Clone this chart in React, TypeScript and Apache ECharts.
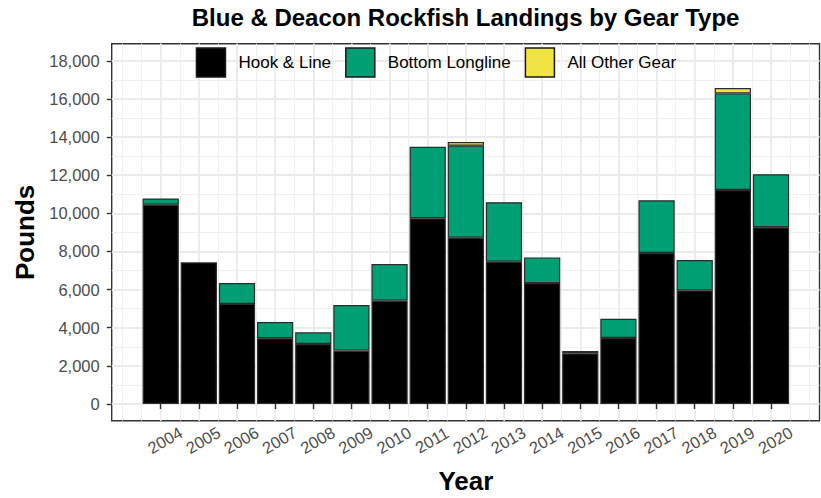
import React, { useEffect, useRef } from "react";
import * as echarts from "echarts";

const years = [2004, 2005, 2006, 2007, 2008, 2009, 2010, 2011, 2012, 2013, 2014, 2015, 2016, 2017, 2018, 2019, 2020];
const hookAndLine = [10450, 7430, 5250, 3450, 3150, 2800, 5420, 9740, 8720, 7460, 6340, 2660, 3460, 7920, 5960, 11220, 9270];
const bottomLongline = [330, null, 1100, 850, 610, 2390, 1920, 3750, 4830, 3120, 1350, 120, 1010, 2770, 1590, 5070, 2780];
const allOtherGear = [null, null, null, null, null, null, null, null, 190, null, null, null, null, null, null, 280, null];
const seriesNames = ["Hook & Line", "Bottom Longline", "All Other Gear"];
const seriesColors = ["#000000", "#009E73", "#F0E442"];
const yTicks = [0, 2000, 4000, 6000, 8000, 10000, 12000, 14000, 16000, 18000];

const FONT = "Liberation Sans, Arial, sans-serif";

export default function App() {
  const ref = useRef<HTMLDivElement>(null);
  useEffect(() => {
    if (!ref.current) return;
    const chart = echarts.init(ref.current, null, { renderer: "svg" });
    const W = 821, H = 498;
    const pL = 111.7, pR = 819.5, pT = 43.7, pB = 420.7;
    const y0 = 404, y18 = 60.8;
    const xa = 160.7, xb = 771; // pixel of first / last year
    const pxPerYr = (xb - xa) / (years[years.length - 1] - years[0]);
    const pxPerUnit = (y0 - y18) / 18000;
    const yMin = -(pB - y0) / pxPerUnit;
    const yMax = (y0 - pT) / pxPerUnit;

    const dataSets = [hookAndLine, bottomLongline, allOtherGear];
    const series = dataSets.map((arr, i) => ({
      type: "bar",
      name: seriesNames[i],
      stack: "total",
      xAxisIndex: 0,
      yAxisIndex: 0,
      barWidth: 0.95 * pxPerYr,
      itemStyle: { color: seriesColors[i], borderColor: "#2b2b2b", borderWidth: 1.2 },
      data: arr.map((v) => (v == null ? "-" : v)),
      z: 5,
    }));

    const hidden = { show: false };
    chart.setOption({
      animation: false,
      backgroundColor: "#ffffff",
      title: {
        text: "Blue & Deacon Rockfish Landings by Gear Type",
        left: (pL + pR) / 2,
        textAlign: "center",
        top: 5,
        padding: 0,
        textStyle: { fontFamily: FONT, fontWeight: "bold", fontSize: 24, color: "#000" },
      },
      legend: {
        left: 195.7,
        top: 47.3,
        padding: 0,
        itemWidth: 29,
        itemHeight: 29,
        itemGap: 14,
        icon: "rect",
        data: seriesNames,
        itemStyle: { borderColor: "#1a1a1a", borderWidth: 1.5 },
        textStyle: { fontFamily: FONT, fontSize: 17, color: "#000", padding: [0, 0, 0, 8] },
      },
      grid: [
        { left: xa - pxPerYr / 2, right: W - (xb + pxPerYr / 2), top: pT, bottom: H - pB, outerBoundsMode: "none" },
        { left: pL, right: W - pR, top: y18, bottom: H - y0, outerBoundsMode: "none" },
        { left: xa - pxPerYr, right: W - (xb + pxPerYr), top: pT, bottom: H - pB, outerBoundsMode: "none" },
        { left: xa, right: W - xb, top: pT, bottom: H - pB, outerBoundsMode: "none" },
        { left: pL, right: W - pR, top: pT, bottom: H - pB, show: true, borderColor: "#333333", borderWidth: 1.4, backgroundColor: "transparent", outerBoundsMode: "none" },
      ],
      xAxis: [
        {
          gridIndex: 0,
          type: "category",
          data: years.map(String),
          boundaryGap: true,
          position: "bottom",
          axisLine: { show: false },
          splitLine: { show: false },
          axisTick: { show: true, alignWithLabel: true, length: 5, lineStyle: { color: "#333333", width: 1.4 } },
          axisLabel: {
            show: true,
            interval: 0,
            rotate: 30,
            align: "center",
            verticalAlign: "top",
            margin: 12,
            fontFamily: FONT,
            fontSize: 16.5,
            color: "#4d4d4d",
          },
          name: "Year",
          nameLocation: "middle",
          nameGap: 47,
          nameTextStyle: { fontFamily: FONT, fontWeight: "bold", fontSize: 26, color: "#000" },
        },
        { gridIndex: 1, type: "value", min: 0, max: 1, show: false },
        {
          gridIndex: 2,
          type: "value",
          min: years[0] - 1,
          max: years[years.length - 1] + 1,
          interval: 0.5,
          axisLine: hidden, axisTick: hidden, axisLabel: hidden,
          splitLine: { show: true, lineStyle: { color: "#f0f0f0", width: 1 } },
        },
        {
          gridIndex: 3,
          type: "value",
          min: years[0],
          max: years[years.length - 1],
          interval: 1,
          axisLine: hidden, axisTick: hidden, axisLabel: hidden,
          splitLine: { show: true, lineStyle: { color: "#ebebeb", width: 1.8 } },
        },
        { gridIndex: 4, type: "value", min: 0, max: 1, show: false },
      ],
      yAxis: [
        {
          gridIndex: 0,
          type: "value",
          min: yMin,
          max: yMax,
          axisLine: hidden, axisTick: hidden, axisLabel: hidden, splitLine: hidden,
        },
        {
          gridIndex: 1,
          type: "value",
          min: yTicks[0],
          max: yTicks[yTicks.length - 1],
          interval: yTicks[1] - yTicks[0],
          axisLine: { show: false },
          axisTick: { show: true, length: 5, lineStyle: { color: "#333333", width: 1.4 } },
          axisLabel: {
            show: true,
            margin: 12,
            fontFamily: FONT,
            fontSize: 16.5,
            color: "#4d4d4d",
            formatter: (v: number) => v.toLocaleString("en-US"),
          },
          splitLine: { show: true, lineStyle: { color: "#ebebeb", width: 1.8 } },
          minorTick: { show: false, splitNumber: 2 },
          minorSplitLine: { show: true, lineStyle: { color: "#f0f0f0", width: 1 } },
          name: "Pounds",
          nameLocation: "middle",
          nameRotate: 90,
          nameGap: 73,
          nameTextStyle: { fontFamily: FONT, fontWeight: "bold", fontSize: 26, color: "#000" },
        },
        { gridIndex: 2, type: "value", min: 0, max: 1, show: false },
        { gridIndex: 3, type: "value", min: 0, max: 1, show: false },
        { gridIndex: 4, type: "value", min: 0, max: 1, show: false },
      ],
      series,
    });
    return () => chart.dispose();
  }, []);
  return <div ref={ref} style={{ position: "absolute", left: 0, top: 0, width: 821, height: 498 }} />;
}
